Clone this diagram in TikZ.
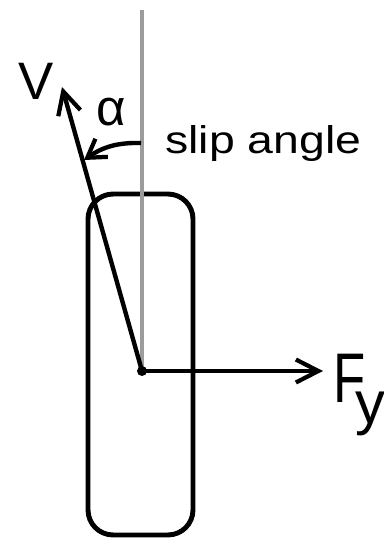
\documentclass[tikz,border=0pt]{standalone}
\usepackage{fontspec}
\setmainfont{Liberation Sans}
\usepackage{tikz}
\usetikzlibrary{arrows.meta, positioning, calc}
\definecolor{axisgray}{HTML}{9C9C9C}
\tikzset{
    tyre/.style={rectangle, draw=black, line width=2.8pt, rounded corners=0.5cm, minimum width=2.1cm, minimum height=6.82cm, inner sep=0pt},
    vecarrow/.style={-{Straight Barb[length=4.5mm, width=4.6mm, line width=2.4pt]}, line width=2.5pt, draw=black},
    anglearrow/.style={-{Straight Barb[length=3.5mm, width=4.4mm, line width=2.4pt]}, line width=2.5pt, draw=black},
    refline/.style={draw=axisgray, line width=2.4pt},
    lbl/.style={inner sep=0pt, font=\fontsize{24}{28}\selectfont}
}

\begin{document}
\begin{tikzpicture}[x=0.02cm, y=-0.02cm]
        \useasboundingbox (0,0) rectangle (383,541);
        \node[tyre] (tyre) at (140.5,364.5) {};
        \coordinate (hub) at (142,371);
        \coordinate (top) at (142,10);
        \coordinate (vtip) at (62,87);
        \coordinate (fytip) at (323,371);
        \coordinate (arcstart) at (141,143);
        \coordinate (arcend) at (84,160);
        \draw[refline] (top) -- (hub);
        \draw[vecarrow] (hub) -- (vtip);
        \draw[vecarrow] (hub) -- (fytip);
        \fill (hub) circle (0.1cm);
        \draw[anglearrow] (arcstart) to[bend right=18] (arcend);
        \node[lbl, font=\fontsize{30}{34}\selectfont] (vlabel) at (36,81) {V};
        \node[lbl, font=\fontsize{29}{32}\selectfont] (alpha) at (111,112) {α};
        \node[lbl, font=\fontsize{22}{26}\selectfont, anchor=base west] (slip) at (165,153) {\scalebox{1.2}[1]{slip angle}};
        \node[lbl, font=\fontsize{40}{44}\selectfont, anchor=base west] (fy) at (333,402)
            {\scalebox{0.75}[1]{F}\hspace{-0.2cm}\raisebox{-12pt}{\fontsize{34}{38}\selectfont y}};
    \end{tikzpicture}
\end{document}
